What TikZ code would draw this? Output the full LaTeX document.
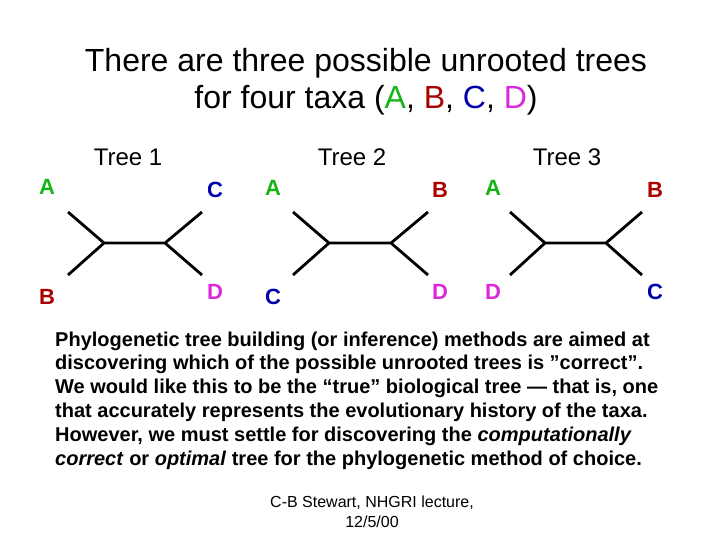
\documentclass[tikz,border=0pt]{standalone}
\usepackage{fontspec}
\setmainfont{Liberation Sans}
\definecolor{cA}{RGB}{20,180,20}
\definecolor{cB}{RGB}{170,0,0}
\definecolor{cC}{RGB}{0,0,170}
\definecolor{cD}{RGB}{220,40,220}
\begin{document}
\begin{tikzpicture}[x=1pt,y=-1pt,
  br/.style={line width=2.8pt},
  leaf/.style={font=\fontsize{22}{26}\selectfont\bfseries},
  tl/.style={font=\fontsize{24}{28}\selectfont},
  body/.style={anchor=west,inner sep=0pt,font=\fontsize{20}{24}\selectfont\bfseries}]
\useasboundingbox (0,0) rectangle (720,540);
\node (t1) at (366,63) {\fontsize{32}{38}\selectfont There are three possible unrooted trees};
\node (t2) at (366,100) {\fontsize{32}{38}\selectfont for four taxa (\textcolor{cA}{A}, \textcolor{cB}{B}, \textcolor{cC}{C}, \textcolor{cD}{D})};
\node[tl] (h1) at (128,157) {Tree 1};
\node[tl] (h2) at (352,157) {Tree 2};
\node[tl] (h3) at (567,157) {Tree 3};
% tree 1
\coordinate (l1) at (104,243); \coordinate (r1) at (165,243);
\coordinate (a1) at (68,212); \coordinate (b1) at (68,275);
\coordinate (c1) at (202,212); \coordinate (d1) at (202,275);
\draw[br] (a1)--(l1)--(b1) (l1)--(r1) (c1)--(r1)--(d1);
\node[leaf,text=cA] (A1) at (47,187) {A};
\node[leaf,text=cB] (B1) at (47,297) {B};
\node[leaf,text=cC] (C1) at (215,190) {C};
\node[leaf,text=cD] (D1) at (215,292) {D};
% tree 2
\coordinate (l2) at (329,243); \coordinate (r2) at (391,243);
\coordinate (a2) at (293,212); \coordinate (b2) at (293,275);
\coordinate (c2) at (428,212); \coordinate (d2) at (428,275);
\draw[br] (a2)--(l2)--(b2) (l2)--(r2) (c2)--(r2)--(d2);
\node[leaf,text=cA] (A2) at (273,188) {A};
\node[leaf,text=cC] (C2) at (273,297) {C};
\node[leaf,text=cB] (B2) at (440,190) {B};
\node[leaf,text=cD] (D2) at (440,292) {D};
% tree 3
\coordinate (l3) at (545,243); \coordinate (r3) at (606,243);
\coordinate (a3) at (510,212); \coordinate (b3) at (510,275);
\coordinate (c3) at (642,212); \coordinate (d3) at (642,275);
\draw[br] (a3)--(l3)--(b3) (l3)--(r3) (c3)--(r3)--(d3);
\node[leaf,text=cA] (A3) at (493,188) {A};
\node[leaf,text=cD] (D3) at (493,292) {D};
\node[leaf,text=cB] (B3) at (655,190) {B};
\node[leaf,text=cC] (C3) at (655,292) {C};
% body
\node[body] (p1) at (55,341) {Phylogenetic tree building (or inference) methods are aimed at};
\node[body] (p2) at (55,364) {discovering which of the possible unrooted trees is \symbol{34}correct\symbol{34}.};
\node[body] (p3) at (55,388) {We would like this to be the “true” biological tree — that is, one};
\node[body] (p4) at (55,412) {that accurately represents the evolutionary history of the taxa.};
\node[body] (p5) at (55,436) {However, we must settle for discovering the \textit{computationally}};
\node[body] (p6) at (55,460) {\textit{correct} or \textit{optimal} tree for the phylogenetic method of choice.};
\node[font=\fontsize{16}{18}\selectfont] (f1) at (372,503) {C-B Stewart, NHGRI lecture,};
\node[font=\fontsize{16}{18}\selectfont] (f2) at (372,522) {12/5/00};
\end{tikzpicture}
\end{document}
